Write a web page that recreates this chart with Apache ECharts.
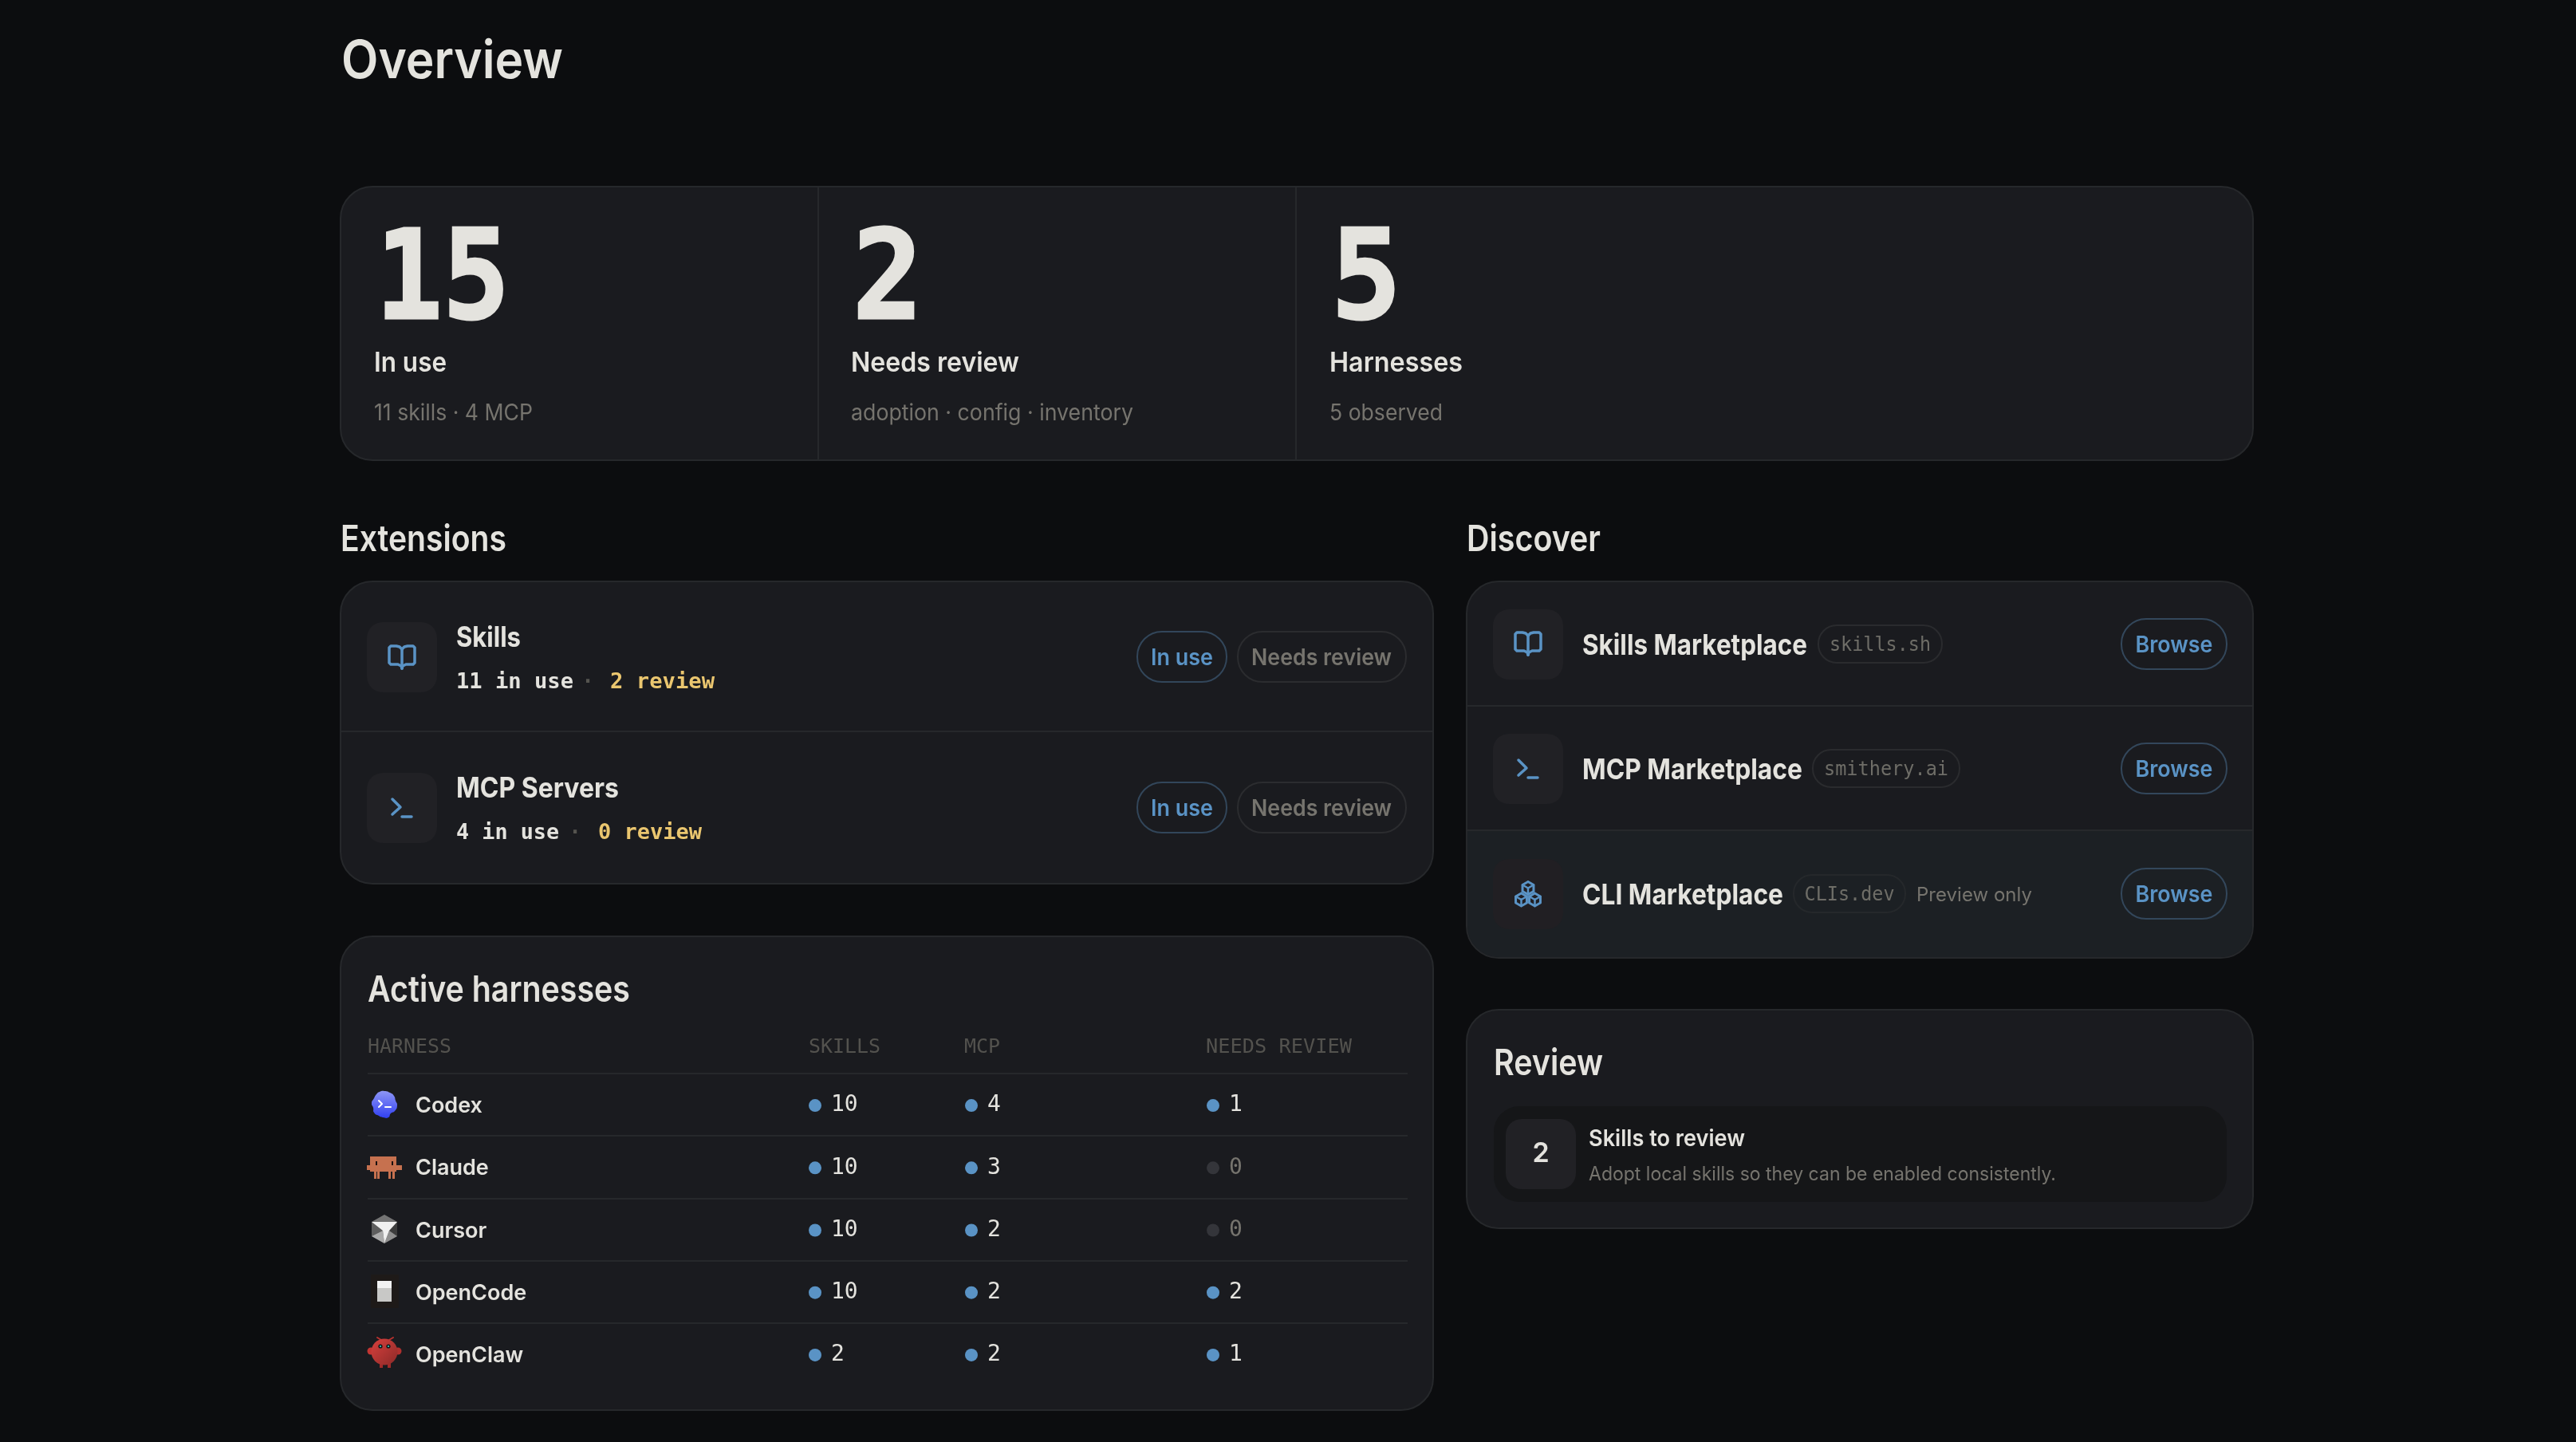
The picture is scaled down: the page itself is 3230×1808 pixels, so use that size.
<!DOCTYPE html>
<html>
<head>
<meta charset="utf-8">
<title>Overview</title>
<script src="https://cdn.jsdelivr.net/npm/echarts@6/dist/echarts.min.js"></script>
<style>
  html, body { margin: 0; padding: 0; background: #0c0d0f; }
  #chart-container { width: 3230px; height: 1808px; }
</style>
</head>
<body>
<div id="chart-container"></div>
<script>
// values
var statValues = ["15", "2", "5"];
var statLabels = ["In use", "Needs review", "Harnesses"];
var statNotes = ["11 skills · 4 MCP", "adoption · config · inventory", "5 observed"];

var extensionNames = ["Skills", "MCP Servers"];
var extensionInUse = [11, 4];
var extensionReview = [2, 0];

var marketNames = ["Skills Marketplace", "MCP Marketplace", "CLI Marketplace"];
var marketSites = ["skills.sh", "smithery.ai", "CLIs.dev"];

var harnesses = ["Codex", "Claude", "Cursor", "OpenCode", "OpenClaw"];
var tableHeaders = ["HARNESS", "SKILLS", "MCP", "NEEDS REVIEW"];
var skillCounts = [10, 10, 10, 10, 2];
var mcpCounts = [4, 3, 2, 2, 2];
var reviewCounts = [1, 0, 0, 2, 1];

var reviewCount = 2;

var WHITE = "#e4e3de", MUTED = "#76746e", BLUE = "#5a93c5", YELLOW = "#eac66f";
var CARD = "#1a1b1f", LINE = "#26282b", ICONBOX = "#212125";
var SANS = "Inter", MONO = "'DejaVu Sans Mono'";

var measure = document.createElement("canvas").getContext("2d");

// text with a target width, stands in for css letter-spacing
function label(text, x, y, font, fill, width, align) {
  measure.font = font;
  var sx = width ? width / measure.measureText(text).width : 1;
  return {
    type: "text", x: x, y: y + 2, scaleX: sx,
    style: { text: text, font: font, fill: fill, align: align || "left", verticalAlign: "middle" },
  };
}
function box(x, y, x2, y2, r, fill, stroke) {
  return {
    type: "rect",
    shape: { x: x, y: y, width: x2 - x, height: y2 - y, r: r },
    style: { fill: fill, stroke: stroke || null, lineWidth: stroke ? 2 : 0 },
  };
}
function hline(x, x2, y) {
  return { type: "line", shape: { x1: x, y1: y, x2: x2, y2: y }, style: { stroke: LINE, lineWidth: 2 } };
}
function lines(cx, cy, pts, color, width) {
  return {
    type: "polyline", x: cx, y: cy,
    shape: { points: pts },
    style: { stroke: color, lineWidth: width || 3.5, fill: null, lineJoin: "round", lineCap: "round" },
  };
}
function poly(cx, cy, pts, fill) {
  return { type: "polygon", x: cx, y: cy, shape: { points: pts }, style: { fill: fill } };
}
function rct(x, y, w, h, fill) {
  return { type: "rect", shape: { x: x, y: y, width: w, height: h }, style: { fill: fill } };
}
function dot(x, y, r, fill) {
  return { type: "circle", shape: { cx: x, cy: y, r: r }, style: { fill: fill } };
}

function bookIcon(cx, cy) {
  var page = [[0, -10], [-3, -13], [-7, -14], [-14, -14], [-16, -12], [-16, 7], [-14, 9], [-5, 9], [-1, 11], [0, 14]];
  var other = page.map(function (p) { return [-p[0], p[1]]; });
  return [
    lines(cx, cy, page, BLUE),
    lines(cx, cy, other, BLUE),
    lines(cx, cy, [[0, -10], [0, 14]], BLUE),
  ];
}
function terminalIcon(cx, cy) {
  return [
    lines(cx, cy, [[-12, -11], [-2, -1], [-12, 8]], BLUE),
    lines(cx, cy, [[0, 11], [12, 11]], BLUE),
  ];
}
function cubesIcon(cx, cy) {
  var out = [];
  [[0, -7.5], [-8.5, 7], [8.5, 7]].forEach(function (c) {
    var x = cx + c[0], y = cy + c[1], r = 8;
    out.push(lines(x, y, [[0, -r], [r * 0.87, -r / 2], [r * 0.87, r / 2], [0, r], [-r * 0.87, r / 2], [-r * 0.87, -r / 2], [0, -r]], BLUE, 3));
    out.push(lines(x, y, [[-r * 0.87, -r / 2], [0, 0], [r * 0.87, -r / 2]], BLUE, 2.5));
    out.push(lines(x, y, [[0, 0], [0, r]], BLUE, 2.5));
  });
  return out;
}

function harnessIcons() {
  var out = [];
  // Codex
  out.push({
    type: "polygon", x: 482, y: 1385,
    shape: {
      smooth: 0.6,
      points: [[-6, -16], [0, -17], [7, -15], [12, -11], [14, -5], [16, 1], [13, 8], [8, 11], [5, 16], [-2, 16], [-7, 14], [-13, 10], [-14, 4], [-16, -2], [-13, -8], [-10, -13]],
    },
    style: {
      fill: { type: "linear", x: 0, y: 0, x2: 0, y2: 1, colorStops: [{ offset: 0, color: "#8d95f5" }, { offset: 1, color: "#3140f2" }] },
    },
  });
  out.push(lines(482, 1385, [[-7, -5], [-3, -1], [-7, 3]], "#ffffff", 2));
  out.push(lines(482, 1385, [[1, 3], [8, 3]], "#ffffff", 2));
  // Claude
  var clay = "#c6714f";
  out.push(rct(464, 1450, 33, 19, clay), rct(460, 1461, 44, 6, clay));
  [469, 473, 487, 492].forEach(function (x) { out.push(rct(x, 1469, 3, 9, clay)); });
  out.push(rct(471, 1456, 2, 5, "#1a1010"), rct(491, 1456, 2, 5, "#1a1010"));
  // Cursor
  out.push(poly(482, 1541, [[0, -18], [16, -9], [16, 9], [0, 18], [-16, 9], [-16, -9]], "#3d3d3d"));
  out.push(poly(482, 1541, [[0, -18], [16, -9], [-16, -9]], "#747474"));
  out.push(poly(482, 1541, [[-16, -9], [-16, 9], [-2, 2]], "#5e5e5e"));
  out.push(poly(482, 1541, [[-16, 9], [-2, 2], [0, 18]], "#aaaaaa"));
  out.push(poly(482, 1541, [[16, 9], [6, 2], [0, 18]], "#8f8f8f"));
  out.push(poly(482, 1541, [[-16, -9], [16, -9], [6, 2], [0, 18], [-2, 2]], "#f0f0f0"));
  // OpenCode
  out.push(rct(465, 1598, 35, 42, "#1e1a18"));
  out.push(rct(473, 1606, 18, 26, "#c8c8c6"), rct(473, 1606, 18, 9, "#f2f2f2"));
  // OpenClaw
  var red = { type: "linear", x: 0, y: 0, x2: 1, y2: 1, colorStops: [{ offset: 0, color: "#d8403d" }, { offset: 1, color: "#8c2a28" }] };
  out.push(lines(482, 1695, [[-4, -15], [-9, -18]], "#b8322f", 2), lines(482, 1695, [[6, -15], [11, -18]], "#b8322f", 2));
  out.push(dot(465, 1694, 4.5, "#c23532"), dot(499, 1694, 4.5, "#b0302e"));
  out.push(rct(476, 1708, 4, 7, "#a02b29"), rct(486, 1708, 4, 7, "#a02b29"));
  out.push({ type: "circle", shape: { cx: 482, cy: 1695, r: 16.5 }, style: { fill: red } });
  out.push(dot(477, 1688, 2.6, "#0e1718"), dot(487, 1688, 2.6, "#0e1718"));
  out.push(dot(477, 1688, 1.1, "#41d0c8"), dot(487, 1688, 1.1, "#41d0c8"));
  return out;
}

var els = [];
els.push(label("Overview", 428, 76, "600 66px " + SANS, WHITE, 278));

// stat strip
els.push(box(427, 234, 2825, 577, 40, CARD, LINE));
els.push({ type: "line", shape: { x1: 1026, y1: 235, x2: 1026, y2: 576 }, style: { stroke: LINE, lineWidth: 2 } });
els.push({ type: "line", shape: { x1: 1625, y1: 235, x2: 1625, y2: 576 }, style: { stroke: LINE, lineWidth: 2 } });
var statX = [469, 1067, 1667];
var statLabelW = [91, 211, 167];
var statNoteW = [199, 354, 142];
statValues.forEach(function (v, i) {
  var big = label(v, statX[i] + 2, 357, "bold 155px " + MONO, WHITE, v.length > 1 ? 168 : 88);
  big.style.stroke = WHITE;
  big.style.lineWidth = 3;
  els.push(big);
  els.push(label(statLabels[i], statX[i], 454, "600 34px " + SANS, WHITE, statLabelW[i]));
  els.push(label(statNotes[i], statX[i], 517, "400 28px " + SANS, MUTED, statNoteW[i]));
});

// extensions
els.push(label("Extensions", 427, 675, "600 45px " + SANS, WHITE, 208));
els.push(box(427, 729, 1797, 1108, 40, CARD, LINE));
els.push(hline(428, 1796, 917));
var extRowY = [824, 1013];
var extTitleW = [81, 204];
var extUseW = [147, 129];
var extDotX = [737, 721];
var extRevX = [765, 750];
var extRevW = [131, 130];
extensionNames.forEach(function (name, i) {
  var y = extRowY[i];
  els.push(box(460, y - 44, 548, y + 44, 20, ICONBOX));
  els.push(label(name, 572, y - 26, "700 35px " + SANS, WHITE, extTitleW[i]));
  els.push(label(extensionInUse[i] + " in use", 572, y + 30, "bold 26px " + MONO, WHITE, extUseW[i]));
  els.push(label("·", extDotX[i], y + 30, "bold 26px " + MONO, "#55544f", 0, "center"));
  els.push(label(extensionReview[i] + " review", extRevX[i], y + 30, "bold 26px " + MONO, YELLOW, extRevW[i]));
  els.push(box(1426, y - 32, 1538, y + 31, 31, null, "#32465a"));
  els.push(label("In use", 1482, y, "600 28px " + SANS, BLUE, 78, "center"));
  els.push(box(1552, y - 32, 1763, y + 31, 31, null, "#2b2c2f"));
  els.push(label("Needs review", 1657, y, "600 28px " + SANS, MUTED, 176, "center"));
});
els = els.concat(bookIcon(504, 824), terminalIcon(504, 1013));

// discover
els.push(label("Discover", 1839, 675, "600 45px " + SANS, WHITE, 168));
els.push(box(1839, 729, 2825, 1201, 40, CARD, LINE));
els.push(box(1840, 1041, 2824, 1200, [0, 0, 39, 39], "#1c2024"));
var mktRowY = [808, 964, 1121];
var mktTitleW = [282, 276, 252];
var chipX = [2280, 2273, 2249];
var chipX2 = [2435, 2457, 2389];
var chipLine = ["#2a2b2e", "#2a2b2e", "#25282b"];
var siteW = [127, 156, 113];
var boxFill = [ICONBOX, ICONBOX, "#211f23"];
marketNames.forEach(function (name, i) {
  var y = mktRowY[i];
  els.push(box(1872, y - 44, 1960, y + 44, 20, boxFill[i]));
  els.push(label(name, 1984, y, "700 36px " + SANS, WHITE, mktTitleW[i]));
  els.push(box(chipX[i], y - 24, chipX2[i], y + 23, 23, null, chipLine[i]));
  els.push(label(marketSites[i], (chipX[i] + chipX2[i]) / 2, y, "400 24px " + MONO, "#6e6d67", siteW[i], "center"));
  els.push(box(2660, y - 32, 2792, y + 31, 31, null, "#33475b"));
  els.push(label("Browse", 2726, y, "600 28px " + SANS, BLUE, 97, "center"));
});
els.push(label("Preview only", 2403, 1121, "400 24px " + SANS, MUTED, 145));
els.push(hline(1840, 2824, 885), hline(1840, 2824, 1041));
els = els.concat(bookIcon(1916, 807), terminalIcon(1916, 964), cubesIcon(1916, 1121));

// review
els.push(box(1839, 1266, 2825, 1540, 40, CARD, LINE));
els.push(label("Review", 1873, 1332, "600 45px " + SANS, WHITE, 137));
els.push(box(1873, 1387, 2792, 1507, 32, "#151618"));
els.push(box(1888, 1403, 1976, 1491, 20, ICONBOX));
els.push(label(String(reviewCount), 1932, 1445, "600 34px " + SANS, WHITE, 0, "center"));
els.push(label("Skills to review", 1992, 1427, "600 28px " + SANS, WHITE, 196));
els.push(label("Adopt local skills so they can be enabled consistently.", 1992, 1471, "400 24px " + SANS, MUTED, 586));

// active harnesses card, rows come from the axes below
els.push(box(427, 1174, 1797, 1768, 40, CARD, LINE));
els.push(label("Active harnesses", 461, 1240, "600 45px " + SANS, WHITE, 329));
var headX = [461, 1014, 1209, 1512];
var headW = [105, 90, 45, 183];
tableHeaders.forEach(function (h, i) {
  els.push(label(h, headX[i], 1312, "400 24px " + MONO, "#53524e", headW[i]));
});
els = els.concat(harnessIcons());

// the card boxes go under the axes and scatter marks
els.forEach(function (e) { e.z = -1; });

// one grid per table column, all on the same harness rows
var columns = [skillCounts, mcpCounts, reviewCounts];
var columnCenters = [1022, 1218, 1521];
var TOP = 1346, RH = 78.2, COLW = 40;

// grid 0 only draws the row lines
var grids = [{ left: 461, top: TOP, width: 1304, height: RH * 5 }];
var xAxes = [{ type: "value", gridIndex: 0, show: false }];
var yAxes = [{
  type: "category", gridIndex: 0, inverse: true, data: harnesses,
  axisLine: { show: false }, axisTick: { show: false }, axisLabel: { show: false },
  splitLine: { show: true, showMaxLine: false, lineStyle: { color: LINE, width: 2 } },
}];
var series = [];
columns.forEach(function (counts, i) {
  var g = i + 1;
  grids.push({ left: columnCenters[i] - COLW / 2, top: TOP + 1, width: COLW, height: RH * 5 });
  xAxes.push({ type: "category", gridIndex: g, show: false, data: [tableHeaders[g]] });
  yAxes.push({ type: "category", gridIndex: g, show: false, inverse: true, data: harnesses });
  series.push({
    type: "scatter",
    xAxisIndex: g,
    yAxisIndex: g,
    symbolSize: 16,
    silent: true,
    data: counts.map(function (n, row) {
      return {
        value: [0, row, n],
        itemStyle: { color: n > 0 ? BLUE : "#34353a", opacity: 1 },
        label: { color: n > 0 ? WHITE : MUTED },
      };
    }),
    label: {
      show: true, position: "right", distance: 12,
      fontFamily: MONO, fontSize: 28,
      formatter: function (p) { return p.value[2]; },
    },
  });
});

// harness names sit a touch below the row centre
grids.push({ left: 461, top: TOP + 2, width: 1304, height: RH * 5 });
xAxes.push({ type: "value", gridIndex: 4, show: false });
yAxes.push({
  type: "category", gridIndex: 4, inverse: true, data: harnesses,
  axisLine: { show: false }, axisTick: { show: false }, splitLine: { show: false },
  axisLabel: { inside: true, margin: 60, color: WHITE, fontFamily: SANS, fontWeight: 600, fontSize: 27 },
});

var myChart = echarts.init(document.getElementById("chart-container"), null, { renderer: "canvas" });
myChart.setOption({
  backgroundColor: "#0c0d0f",
  animation: false,
  tooltip: { show: false },
  grid: grids,
  xAxis: xAxes,
  yAxis: yAxes,
  series: series,
  graphic: { elements: els },
});
window.addEventListener("resize", myChart.resize);
</script>
</body>
</html>
